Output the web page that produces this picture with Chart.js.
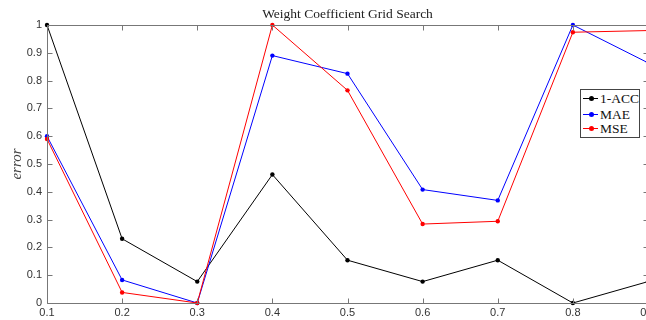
<!DOCTYPE html>
<html>
<head>
<meta charset="utf-8">
<script src="https://cdn.jsdelivr.net/npm/chart.js@4"></script>
<style>
  html, body { margin: 0; padding: 0; background: #fff; overflow: hidden; }
  #wrap { position: relative; width: 660px; height: 320px; }
  #legend {
    position: absolute; left: 580px; top: 89px; width: 58px; height: 47px;
    border: 1px solid #444; background: #fff;
    font-family: "Liberation Serif", "DejaVu Serif", serif; font-size: 13.5px; color: #111;
  }
  #legend .row { position: absolute; left: 0; height: 15px; line-height: 15px; }
  #legend .line { position: absolute; left: 2px; top: 7px; width: 15px; height: 1px; }
  #legend .dot { position: absolute; left: 8px; top: 5px; width: 5px; height: 5px; border-radius: 50%; }
  #legend .txt { position: absolute; left: 19px; top: 0; white-space: nowrap; }
</style>
</head>
<body>
<div id="wrap">
  <canvas id="gridChart" width="660" height="320"></canvas>
  <div id="legend"></div>
</div>
<script>
var weights = ['0.1', '0.2', '0.3', '0.4', '0.5', '0.6', '0.7', '0.8', '0.9']
var accErr = [1.0, 0.231, 0.077, 0.462, 0.154, 0.077, 0.154, 0.0, 0.077]
var maeErr = [0.60, 0.083, 0.0, 0.89, 0.825, 0.408, 0.369, 1.0, 0.864]
var mseErr = [0.59, 0.038, 0.0, 1.0, 0.765, 0.284, 0.294, 0.974, 0.98]
var seriesNames = ['1-ACC', 'MAE', 'MSE']
var seriesColors = ['#000000', '#0000ff', '#ff0000']

// matlab style box with inward ticks on all four sides
var boxPlugin = {
  id: 'matlabBox',
  afterDraw: function (chart) {
    var ctx = chart.ctx
    var a = chart.chartArea
    var xs = chart.scales.x
    var ys = chart.scales.y
    var L = Math.round(a.left) + 0.5, R = Math.round(a.right) + 0.5
    var T = Math.round(a.top) + 0.5, B = Math.round(a.bottom) + 0.5
    ctx.save()
    ctx.strokeStyle = '#777'
    ctx.lineWidth = 1
    ctx.beginPath()
    ctx.rect(L, T, R - L, B - T)
    var tl = 5
    xs.ticks.forEach(function (t, i) {
      var px = Math.round(xs.getPixelForTick(i)) + 0.5
      ctx.moveTo(px, B); ctx.lineTo(px, B - tl)
      ctx.moveTo(px, T); ctx.lineTo(px, T + tl)
    })
    ys.ticks.forEach(function (t) {
      var py = Math.round(ys.getPixelForValue(t.value)) + 0.5
      ctx.moveTo(L, py); ctx.lineTo(L + tl, py)
      ctx.moveTo(R, py); ctx.lineTo(R - tl, py)
    })
    ctx.stroke()
    // title
    ctx.fillStyle = '#222'
    ctx.font = '13.5px "Liberation Serif", "DejaVu Serif", serif'
    ctx.textAlign = 'center'
    ctx.textBaseline = 'alphabetic'
    ctx.fillText('Weight Coefficient Grid Search', (a.left + a.right) / 2, 18)
    ctx.restore()
  }
}

function makeSet(i, values, order) {
  return {
    label: seriesNames[i],
    data: values,
    borderColor: seriesColors[i],
    backgroundColor: seriesColors[i],
    borderWidth: 1,
    pointRadius: 2.2,
    pointHoverRadius: 2.2,
    pointBorderWidth: 0,
    tension: 0,
    clip: false,
    order: order
  }
}

var tickFont = { family: '"Liberation Sans", Arial, sans-serif', size: 11 }

var chart = new Chart(document.getElementById('gridChart').getContext('2d'), {
  type: 'line',
  data: {
    labels: weights,
    datasets: [makeSet(0, accErr, 3), makeSet(1, maeErr, 2), makeSet(2, mseErr, 1)]
  },
  options: {
    responsive: false,
    animation: false,
    layout: { padding: { top: 25, right: 12, left: 0, bottom: 0 } },
    plugins: {
      legend: { display: false },
      tooltip: { enabled: false },
      title: { display: false }
    },
    scales: {
      x: {
        type: 'category',
        offset: false,
        grid: { display: false, drawTicks: false },
        border: { display: false },
        ticks: { color: '#333', font: tickFont, padding: 3, maxRotation: 0, autoSkip: false },
        afterFit: function (s) { s.height = 17 }
      },
      y: {
        min: 0,
        max: 1,
        grid: { display: false, drawTicks: false },
        border: { display: false },
        ticks: {
          stepSize: 0.1, color: '#333', font: tickFont, padding: 5,
          callback: function (v) { return String(Number(v.toFixed(1))) }
        },
        title: {
          display: true,
          text: 'error',
          color: '#444',
          padding: { top: 8, bottom: 0 },
          font: { family: '"Liberation Serif", "DejaVu Serif", serif', size: 15, style: 'italic' }
        },
        afterFit: function (s) { s.width = 47 }
      }
    }
  },
  plugins: [boxPlugin]
})

// legend box like the matlab one
var legend = document.getElementById('legend')
var rowTops = [1, 17, 31]
seriesNames.forEach(function (name, i) {
  var row = document.createElement('div')
  row.className = 'row'
  row.style.top = rowTops[i] + 'px'
  row.innerHTML = '<div class="line" style="background:' + seriesColors[i] + '"></div>' +
    '<div class="dot" style="background:' + seriesColors[i] + '"></div>' +
    '<div class="txt">' + name + '</div>'
  legend.appendChild(row)
})
</script>
</body>
</html>
